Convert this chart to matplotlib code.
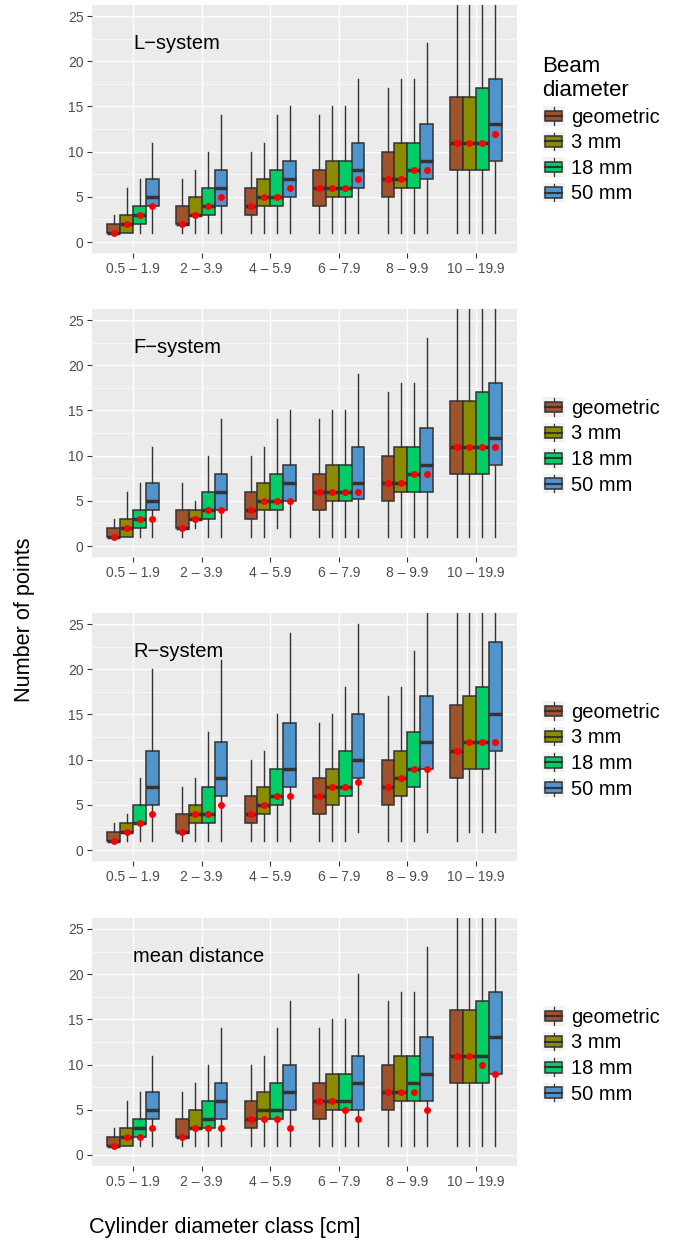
import matplotlib as mpl
mpl.use('Agg')
import matplotlib.pyplot as plt
from matplotlib.patches import Rectangle, Patch
from matplotlib.lines import Line2D
from matplotlib.legend_handler import HandlerBase

plt.rcParams['font.family'] = ['Liberation Sans', 'DejaVu Sans']

#######################################################################################
# Data (rows: diameter classes, columns: beam diameters)
classes = ["0.5 \u2013 1.9", "2 \u2013 3.9", "4 \u2013 5.9", "6 \u2013 7.9", "8 \u2013 9.9", "10 \u2013 19.9"]
beams = ["geometric", "3 mm", "18 mm", "50 mm"]
panel_names = ["L\u2212system", "F\u2212system", "R\u2212system", "mean distance"]

L_lo = [[1, 1, 1, 1], [1, 1, 1, 1], [1, 1, 1, 1], [1, 1, 1, 1], [1, 1, 1, 1], [1, 1, 1, 1]]
L_q1 = [[1, 1, 2, 4], [2, 3, 3, 4], [3, 4, 4, 5], [4, 5, 5, 6], [5, 6, 6, 7], [8, 8, 8, 9]]
L_med = [[1, 2, 3, 5], [2, 3, 4, 6], [4, 5, 5, 7], [6, 6, 6, 8], [7, 7, 8, 9], [11, 11, 11, 13]]
L_q3 = [[2, 3, 4, 7], [4, 5, 6, 8], [6, 7, 8, 9], [8, 9, 9, 11], [10, 11, 11, 13], [16, 16, 17, 18]]
L_hi = [[3, 6, 7, 11], [7, 8, 10, 14], [10, 11, 14, 15], [14, 15, 15, 18], [17, 18, 18, 22], [28, 28, 28, 28]]
L_dot = [[1, 2, 3, 4], [2, 3, 4, 5], [4, 5, 5, 6], [6, 6, 6, 7], [7, 7, 8, 8], [11, 11, 11, 12]]

F_lo = [[1, 1, 1, 1], [1, 2, 1, 1], [1, 1, 2, 1], [1, 1, 1, 1], [1, 1, 1, 1], [1, 1, 1, 1]]
F_q1 = [[1, 1, 2, 4], [2, 3, 3, 4], [3, 4, 4, 5], [4, 5, 5, 5.2], [5, 6, 6, 6], [8, 8, 8, 9]]
F_med = [[1, 2, 3, 5], [2, 3, 4, 6], [4, 5, 5, 7], [6, 6, 6, 7], [7, 7, 8, 9], [11, 11, 11, 12]]
F_q3 = [[2, 3, 4, 7], [4, 4, 6, 8], [6, 7, 8, 9], [8, 9, 9, 11], [10, 11, 11, 13], [16, 16, 17, 18]]
F_hi = [[3, 6, 7, 11], [7, 5, 10, 14], [10, 11, 14, 15], [14, 15, 15, 19], [17, 18, 18, 23], [28, 28, 28, 28]]
F_dot = [[1, 2, 3, 3], [2, 3, 4, 4], [4, 5, 5, 5], [6, 6, 6, 6], [7, 7, 8, 8], [11, 11, 11, 11]]

R_lo = [[1, 1, 1, 1], [1, 1, 1, 1], [1, 1, 1, 1], [1, 1, 1, 2], [1, 1, 1, 2], [1, 2, 2, 2]]
R_q1 = [[1, 2, 3, 5], [2, 3, 3, 6], [3, 4, 5, 7], [4, 5, 6, 8], [5, 6, 7, 9], [8, 9, 9, 11]]
R_med = [[1, 2, 3, 7], [2, 4, 4, 8], [4, 5, 6, 9], [6, 7, 7, 10], [7, 8, 9, 12], [11, 12, 12, 15]]
R_q3 = [[2, 3, 5, 11], [4, 5, 7, 12], [6, 7, 9, 14], [8, 9, 11, 15], [10, 11, 13, 17], [16, 17, 18, 23]]
R_hi = [[3, 4, 8, 20], [7, 8, 13, 21], [10, 11, 15, 24], [14, 15, 18, 25], [17, 18, 22, 28], [28, 28, 28, 28]]
R_dot = [[1, 2, 3, 4], [2, 4, 4, 5], [4, 5, 6, 6], [6, 7, 7, 7.5], [7, 8, 9, 9], [11, 12, 12, 12]]

M_lo = [[1, 1, 1, 1], [1, 1, 1, 1], [1, 1, 1, 1], [1, 1, 1, 1], [1, 1, 1, 1], [1, 1, 1, 1]]
M_q1 = [[1, 1, 2, 4], [2, 3, 3, 4], [3, 4, 4, 5], [4, 5, 5, 5], [5, 6, 6, 6], [8, 8, 8, 9]]
M_med = [[1, 2, 3, 5], [2, 3, 4, 6], [4, 5, 5, 7], [6, 6, 6, 8], [7, 7, 8, 9], [11, 11, 11, 13]]
M_q3 = [[2, 3, 4, 7], [4, 5, 6, 8], [6, 7, 8, 10], [8, 9, 9, 11], [10, 11, 11, 13], [16, 16, 17, 18]]
M_hi = [[3, 6, 7, 11], [7, 8, 10, 14], [10, 11, 14, 17], [14, 15, 15, 20], [17, 18, 18, 23], [28, 28, 28, 28]]
M_dot = [[1, 2, 2, 3], [2, 3, 3, 3], [4, 4, 4, 3], [6, 6, 5, 4], [7, 7, 7, 5], [11, 11, 10, 9]]

panels = [(L_lo, L_q1, L_med, L_q3, L_hi, L_dot),
          (F_lo, F_q1, F_med, F_q3, F_hi, F_dot),
          (R_lo, R_q1, R_med, R_q3, R_hi, R_dot),
          (M_lo, M_q1, M_med, M_q3, M_hi, M_dot)]

#######################################################################################
# Styling
colors = ["#A0522D", "#8B8B00", "#00CD66", "#4F94CD"]
dark = "#333333"
W, H = 676, 1241
dodge = 0.75
bw = dodge / 4


class BoxKey(HandlerBase):
    # ggplot-like boxplot legend key
    def create_artists(self, legend, orig_handle, xdescent, ydescent, width, height, fontsize, trans):
        x0, y0 = -xdescent, -ydescent
        bg = Rectangle((x0, y0), width, height, fc="#F2F2F2", ec="none", transform=trans)
        cx = x0 + width / 2
        wl = Line2D([cx, cx], [y0 + 0.05 * height, y0 + 0.95 * height], color=dark, lw=0.9, transform=trans)
        box = Rectangle((x0 + 0.1 * width, y0 + 0.22 * height), 0.8 * width, 0.56 * height,
                        fc=orig_handle.get_facecolor(), ec=dark, lw=1.1, transform=trans)
        med = Line2D([x0 + 0.1 * width, x0 + 0.9 * width], [y0 + 0.5 * height] * 2, color=dark, lw=1.5, transform=trans)
        return [bg, wl, box, med]


fig = plt.figure(figsize=(W / 100, H / 100), dpi=100, facecolor='w')
zero_px = [242, 546, 850, 1155]
upp = 9.04  # px per unit

for p, (lo, q1, med, q3, hi, dot) in enumerate(panels):
    top = zero_px[p] - 26.25 * upp
    bot = zero_px[p] + 1.25 * upp
    ax = fig.add_axes([92 / W, 1 - bot / H, 425 / W, (bot - top) / H])
    ax.set_facecolor("#EBEBEB")
    for s in ax.spines.values():
        s.set_visible(False)

    for j in range(4):
        stats, pos = [], []
        for i in range(len(classes)):
            stats.append(dict(whislo=lo[i][j], q1=q1[i][j], med=med[i][j], q3=q3[i][j],
                              whishi=hi[i][j], fliers=[]))
            pos.append(i + 1 + (j - 1.5) * bw)
        ax.bxp(stats, positions=pos, widths=bw, patch_artist=True, showcaps=False, showfliers=False,
               boxprops=dict(facecolor=colors[j], edgecolor=dark, linewidth=1.1),
               medianprops=dict(color=dark, linewidth=2.5, solid_capstyle='butt'),
               whiskerprops=dict(color=dark, linewidth=1.0),
               manage_ticks=False, zorder=3)
        ax.plot(pos, [d[j] for d in dot], 'o', color='red', ms=5.0, mec='none', zorder=5)

    ax.set_xlim(0.4, 6.6)
    ax.set_ylim(-1.25, 26.25)
    ax.set_yticks([0, 5, 10, 15, 20, 25])
    ax.set_yticks([2.5, 7.5, 12.5, 17.5, 22.5], minor=True)
    ax.set_xticks(range(1, 7))
    ax.set_xticklabels(classes)
    ax.grid(True, which='major', color='white', lw=1.0, zorder=0)
    ax.grid(True, which='minor', axis='y', color='white', lw=0.45, zorder=0)
    ax.set_axisbelow(True)
    ax.tick_params(axis='both', which='major', length=3.5, width=0.8, color=dark,
                   labelcolor="#4D4D4D", labelsize=10, pad=2.5)
    ax.tick_params(axis='y', which='minor', length=0)

    ax.text(1.0, 22, panel_names[p], fontsize=14.5, ha='left', va='center', zorder=6)

    handles = [Patch(facecolor=c) for c in colors]
    common = dict(loc='center left', frameon=False, fontsize=14.5, borderpad=0, borderaxespad=0,
                  handlelength=1.1, handleheight=1.1, labelspacing=0.25, handletextpad=0.3,
                  handler_map={Patch: BoxKey()})
    if p == 0:
        leg = ax.legend(handles, beams, title="Beam\ndiameter", bbox_to_anchor=(1.06, 0.497),
                        title_fontsize=16, alignment='left', **common)
    else:
        leg = ax.legend(handles, beams, bbox_to_anchor=(1.06, 0.448), **common)

fig.text(25 / W, 1 - 620 / H, "Number of points", rotation=90, fontsize=15.6, ha='center', va='center')
fig.text(225 / W, 1 - 1227 / H, "Cylinder diameter class [cm]", fontsize=15.6, ha='center', va='center')

plt.savefig("out.png", dpi=100)
